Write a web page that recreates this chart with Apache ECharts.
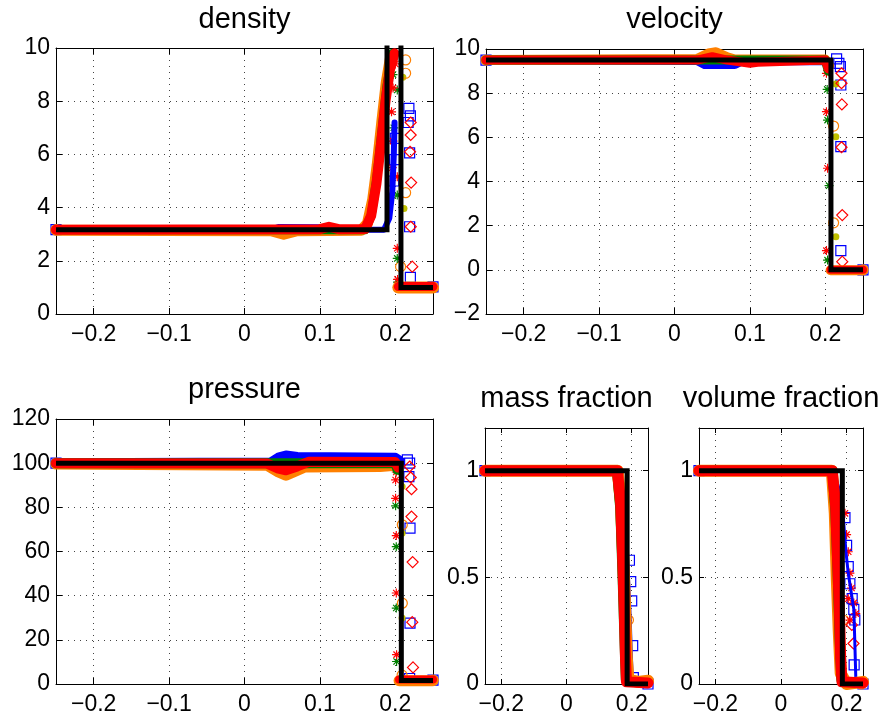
<!DOCTYPE html>
<html><head><meta charset="utf-8">
<script src="https://cdn.jsdelivr.net/npm/echarts@6/dist/echarts.min.js"></script>
<style>html,body{margin:0;padding:0;background:#fff}#c{width:884px;height:721px}</style>
</head><body><div id="c"></div>
<script>
// ---------------- tick labels ----------------
const wideXTicks = [-0.2, -0.1, 0, 0.1, 0.2];
const narrowXTicks = [-0.2, 0, 0.2];
const densityYTicks = [0, 2, 4, 6, 8, 10];
const velocityYTicks = [-2, 0, 2, 4, 6, 8, 10];
const pressureYTicks = [0, 20, 40, 60, 80, 100, 120];
const fractionYTicks = [0, 0.5, 1];

// ---------------- density ----------------
const densityExact = [[-0.25,3.17],[0.189,3.17],[0.189,11],[0.2075,11],[0.2075,1],[0.25,1]];
const densityBlueBand = [[-0.25,3.17],[0.035,3.17],[0.045,3.27],[0.1,3.26],[0.11,3.17],[0.185,3.17],[0.192,3.6],[0.196,4.6],[0.198,6],[0.199,7.2]];
const densityOrangeBand = [[-0.25,3.15],[0.035,3.13],[0.052,3.0],[0.07,3.13],[0.155,3.15],[0.163,3.4],[0.17,4.3],[0.176,5.6],[0.182,7.2],[0.188,8.7],[0.194,9.7]];
const densityGreenBand = [[-0.25,3.17],[0.16,3.17],[0.168,3.7],[0.175,5],[0.182,6.8],[0.189,8.6],[0.196,9.8]];
const densityRedBand = [[-0.25,3.17],[0.1,3.19],[0.112,3.28],[0.125,3.19],[0.16,3.2],[0.168,3.7],[0.175,4.9],[0.181,6.4],[0.187,8.0],[0.193,9.2],[0.199,9.8]];
const densityOrangeRight = [[0.204,1.0],[0.25,1.0]];
const densityRedRight = [[0.204,1.03],[0.25,1.03]];
const densityBlueSquares = [[-0.25,3.17],[0.218,7.73],[0.22,7.45],[0.217,7.2],[0.198,5.0],[0.199,5.8],[0.2,6.6],[0.219,6.06],[0.219,3.28],[0.22,1.38],[0.25,1.02]];
const densityRedDiamonds = [[0.2204,7.2],[0.2204,6.73],[0.2195,6.1],[0.221,4.94],[0.2205,3.28],[0.2225,1.78]];
const densityOrangeCircles = [[-0.25,3.17],[0.2137,9.55],[0.2137,9.05],[0.2137,4.56],[0.207,1.78],[0.25,1.0]];
const densityYellowDots = [[0.2115,3.97],[0.21,8.9]];
const densityGreenStars = [[0.2026,8.42],[0.2026,4.47],[0.2026,2.09],[0.203,1.2],[0.198,7.0],[0.197,9.0]];
const densityRedStars = [[0.2026,5.16],[0.2026,2.47],[0.203,1.3],[0.196,5.5],[0.197,6.5],[0.195,7.6],[0.197,8.5],[0.2,9.4]];

// ---------------- velocity ----------------
const velocityExact = [[-0.25,9.5],[0.2075,9.5],[0.2075,0],[0.25,0]];
const velocityBlueBand = [[-0.25,9.5],[0.03,9.48],[0.04,9.3],[0.08,9.3],[0.09,9.47],[0.2,9.47]];
const velocityOrangeBand = [[-0.25,9.5],[0.03,9.55],[0.045,9.8],[0.055,9.85],[0.07,9.62],[0.08,9.52],[0.2,9.52],[0.205,9.25]];
const velocityGreenBand = [[-0.25,9.5],[0.2,9.5],[0.204,9.0]];
const velocityRedBand = [[-0.25,9.5],[0.03,9.5],[0.05,9.65],[0.07,9.5],[0.1,9.35],[0.11,9.4],[0.2,9.5],[0.204,9.1]];
const velocityOrangeRight = [[0.207,-0.02],[0.25,-0.02]];
const velocityRedRight = [[0.207,0],[0.25,0]];
const velocityBlueSquares = [[-0.25,9.5],[0.215,9.55],[0.218,9.35],[0.22,9.2],[0.2206,8.37],[0.2206,5.58],[0.2206,0.87],[0.25,0]];
const velocityRedDiamonds = [[0.2215,8.9],[0.2215,8.45],[0.222,7.49],[0.2215,5.55],[0.2225,2.48],[0.2225,0.37]];
const velocityOrangeCircles = [[-0.25,9.5],[0.211,6.51],[0.211,2.13],[0.25,0]];
const velocityYellowDots = [[0.214,8.41],[0.214,6.03],[0.214,1.5]];
const velocityGreenStars = [[0.2025,8.17],[0.203,6.78],[0.205,3.81],[0.203,0.44]];
const velocityRedStars = [[0.2015,8.9],[0.2015,7.16],[0.203,4.6],[0.2015,0.87]];

// ---------------- pressure ----------------
const pressureExact = [[-0.25,100],[0.208,100],[0.208,1.6],[0.25,1.6]];
const pressureBlueBand = [[-0.25,100],[0.035,100.3],[0.045,102.5],[0.055,103.5],[0.07,102.8],[0.2,102.4],[0.206,101]];
const pressureOrangeBand = [[-0.25,99.6],[0.03,99],[0.045,96],[0.055,94.5],[0.065,96],[0.08,98.3],[0.18,98.5],[0.2,99]];
const pressureGreenBand = [[-0.25,100],[0.2,100],[0.203,97]];
const pressureRedBand = [[-0.25,100],[0.03,99.8],[0.045,97.5],[0.055,96.8],[0.07,98.5],[0.085,100.6],[0.2,100.5],[0.204,98]];
const pressureOrangeRight = [[0.205,1.5],[0.25,1.5]];
const pressureRedRight = [[0.205,2],[0.25,2]];
const pressureBlueSquares = [[-0.25,100],[0.216,101.5],[0.219,100],[0.218,93.9],[0.2195,70.6],[0.2195,27.6],[0.219,2.5],[0.25,1.8]];
const pressureRedDiamonds = [[0.219,98.5],[0.2205,93.5],[0.2215,88.2],[0.2215,75.8],[0.223,55.2],[0.2225,28],[0.2235,7.5]];
const pressureOrangeCircles = [[-0.25,100],[0.2093,72.1],[0.2093,36.6],[0.209,4],[0.25,1.8]];
const pressureYellowDots = [[0.209,89.4],[0.209,68.3],[0.209,29.9]];
const pressureGreenStars = [[0.2013,96.9],[0.2004,80.7],[0.2013,62.2],[0.2013,34.4],[0.2017,10.2]];
const pressureRedStars = [[0.2013,96],[0.2004,92.4],[0.2004,84.1],[0.2013,67.2],[0.2013,41.2],[0.2017,13.3]];

// ---------------- mass fraction ----------------
const massExact = [[-0.25,1],[0.186,1],[0.186,0],[0.25,0]];
const massBlueBand = [[-0.25,1],[0.162,1],[0.174,0.85],[0.181,0.65],[0.187,0.45],[0.191,0.3],[0.194,0.15],[0.197,0.03],[0.25,0]];
const massOrangeBand = [[-0.25,1],[0.157,1],[0.167,0.85],[0.174,0.6],[0.18,0.35],[0.185,0.12],[0.19,0.02],[0.22,0.01],[0.25,0.015]];
const massGreenBand = [[-0.25,1],[0.155,1],[0.165,0.82],[0.172,0.5],[0.178,0.2],[0.182,0.02]];
const massRedBand = [[-0.25,1],[0.156,1],[0.166,0.85],[0.172,0.6],[0.177,0.35],[0.181,0.12],[0.184,0.01],[0.25,0.005]];
const massBlueSquares = [[-0.25,1],[0.193,0.58],[0.197,0.48],[0.2,0.39],[0.203,0.18],[0.205,0.03],[0.25,0]];
const massRedDiamonds = [];
const massOrangeCircles = [[-0.25,1],[0.19,0.3],[0.25,0.01]];
const massYellowDots = [[0.176,0.45],[0.18,0.2]];
const massGreenStars = [[0.17,0.7],[0.176,0.4]];
const massRedStars = [[0.168,0.8],[0.178,0.3]];

// ---------------- volume fraction ----------------
const volumeExact = [[-0.25,1],[0.187,1],[0.187,0],[0.25,0]];
const volumeBlueBand = [[-0.25,1],[0.16,1],[0.18,0.9],[0.19,0.78],[0.198,0.62],[0.205,0.52],[0.215,0.42],[0.222,0.35],[0.225,0.2],[0.228,0.03],[0.25,0]];
const volumeOrangeBand = [[-0.25,1],[0.155,1],[0.164,0.8],[0.17,0.5],[0.176,0.25],[0.182,0.05],[0.2,0.0],[0.25,0.01]];
const volumeGreenBand = [[-0.25,1],[0.157,1],[0.166,0.8],[0.173,0.5],[0.179,0.2],[0.184,0.02]];
const volumeRedBand = [[-0.25,1],[0.156,1],[0.166,0.85],[0.172,0.6],[0.178,0.35],[0.182,0.12],[0.186,0.01],[0.25,0.005]];
const volumeBlueSquares = [[-0.25,1],[0.195,0.78],[0.2,0.65],[0.205,0.55],[0.21,0.47],[0.217,0.4],[0.222,0.35],[0.225,0.3],[0.223,0.09],[0.25,0]];
const volumeRedDiamonds = [[0.216,0.277],[0.221,0.19]];
const volumeOrangeCircles = [[-0.25,1],[0.19,0.3],[0.245,0.0]];
const volumeYellowDots = [[0.176,0.4],[0.18,0.2]];
const volumeGreenStars = [[0.17,0.65],[0.178,0.3]];
const volumeRedStars = [[0.195,0.8],[0.2,0.7],[0.205,0.62],[0.21,0.52],[0.215,0.45],[0.222,0.38],[0.228,0.33],[0.205,0.4],[0.21,0.3]];

// ---------------- styling / layout ----------------
const COL = {blue:'#0000ff', orange:'#ff8000', yellow:'#bfbf00', green:'#008000', red:'#ff0000', black:'#000000'};
const FONT = 'Liberation Sans, Arial, Helvetica, sans-serif';
const STAR = 'path://M5,0L5,10M0,5L10,5M1.5,1.5L8.5,8.5M1.5,8.5L8.5,1.5';

const panels = [
  {title:'density', titleTop:5, grid:{left:56, top:48, width:377, height:266}, xSplit:5, xStep:0.1, xTicks:wideXTicks,
   yMin:0, yMax:10, yStep:2, yTicks:densityYTicks, tick:6,
   bands:[[densityBlueBand,'blue',6],[densityOrangeBand,'orange',11],[densityGreenBand,'green',9],[densityRedBand,'red',10],[densityOrangeRight,'orange',12],[densityRedRight,'red',9]],
   marks:[densityBlueSquares,densityYellowDots,densityOrangeCircles,densityGreenStars,densityRedStars,densityRedDiamonds], exact:densityExact},
  {title:'velocity', titleTop:5, grid:{left:486, top:49, width:377, height:265}, xSplit:5, xStep:0.1, xTicks:wideXTicks,
   yMin:-2, yMax:10, yStep:2, yTicks:velocityYTicks, tick:6,
   bands:[[velocityBlueBand,'blue',9],[velocityOrangeBand,'orange',10],[velocityGreenBand,'green',9],[velocityRedBand,'red',9],[velocityOrangeRight,'orange',10],[velocityRedRight,'red',8]],
   marks:[velocityBlueSquares,velocityYellowDots,velocityOrangeCircles,velocityGreenStars,velocityRedStars,velocityRedDiamonds], exact:velocityExact},
  {title:'pressure', titleTop:375, grid:{left:56, top:419, width:377, height:265}, xSplit:5, xStep:0.1, xTicks:wideXTicks,
   yMin:0, yMax:120, yStep:20, yTicks:pressureYTicks, tick:6,
   bands:[[pressureBlueBand,'blue',10],[pressureOrangeBand,'orange',11],[pressureGreenBand,'green',10],[pressureRedBand,'red',10],[pressureOrangeRight,'orange',11],[pressureRedRight,'red',8]],
   marks:[pressureBlueSquares,pressureYellowDots,pressureOrangeCircles,pressureGreenStars,pressureRedStars,pressureRedDiamonds], exact:pressureExact},
  {title:'mass fraction', titleTop:384, grid:{left:485, top:428, width:163, height:256}, xSplit:3, xStep:0.2, xTicks:narrowXTicks,
   yMin:0, yMax:1.2, yStep:0.5, yTicks:fractionYTicks, tick:5,
   bands:[[massBlueBand,'blue',6],[massOrangeBand,'orange',12],[massGreenBand,'green',10],[massRedBand,'red',11]],
   marks:[massBlueSquares,massYellowDots,massOrangeCircles,massGreenStars,massRedStars,massRedDiamonds], exact:massExact},
  {title:'volume fraction', titleTop:384, grid:{left:699, top:428, width:164, height:256}, xSplit:3, xStep:0.2, xTicks:narrowXTicks,
   yMin:0, yMax:1.2, yStep:0.5, yTicks:fractionYTicks, tick:5,
   bands:[[volumeBlueBand,'blue',3],[volumeOrangeBand,'orange',12],[volumeGreenBand,'green',10],[volumeRedBand,'red',11]],
   marks:[volumeBlueSquares,volumeYellowDots,volumeOrangeCircles,volumeGreenStars,volumeRedStars,volumeRedDiamonds], exact:volumeExact}
];

const markStyles = [
  {symbol:'rect', size:10, itemStyle:{color:'rgba(0,0,0,0)', borderColor:COL.blue, borderWidth:1.2, opacity:1}},
  {symbol:'circle', size:7, itemStyle:{color:COL.yellow, borderWidth:0, opacity:1}},
  {symbol:'circle', size:10, itemStyle:{color:'rgba(0,0,0,0)', borderColor:COL.orange, borderWidth:1.2, opacity:1}},
  {symbol:STAR, size:9, itemStyle:{color:'rgba(0,0,0,0)', borderColor:COL.green, borderWidth:1.2, opacity:1}},
  {symbol:STAR, size:9, itemStyle:{color:'rgba(0,0,0,0)', borderColor:COL.red, borderWidth:1.2, opacity:1}},
  {symbol:'diamond', size:11, itemStyle:{color:'rgba(0,0,0,0)', borderColor:COL.red, borderWidth:1.2, opacity:1}}
];

function labelFmt(ticks){
  return function(v){
    for (const t of ticks){ if (Math.abs(v - t) < 1e-6) return (t < 0 ? '\u2212' : '') + String(Math.abs(t)); }
    return '';
  };
}

const grids = [], xAxes = [], yAxes = [], titles = [], series = [];
panels.forEach((p, i) => {
  grids.push(Object.assign({containLabel:false}, p.grid));
  titles.push({text:p.title, left:p.grid.left + p.grid.width/2, top:p.titleTop, textAlign:'center', padding:0,
    textStyle:{fontFamily:FONT, fontSize:29, fontWeight:'normal', color:'#000'}});
  const lineStyle = {color:'#000', width:1};
  const tickStyle = {color:'#000', width:1};
  const split = {show:true, lineStyle:{color:'#444', width:1, type:[1,5]}};
  const xBase = {gridIndex:i, type:'value', min:-0.25, max:0.25, splitNumber:p.xSplit, minInterval:p.xStep, maxInterval:p.xStep};
  xAxes.push(Object.assign({}, xBase, {position:'bottom', axisLine:{show:true, onZero:false, lineStyle},
    axisTick:{show:true, inside:true, length:p.tick, lineStyle:tickStyle},
    axisLabel:{show:true, formatter:labelFmt(p.xTicks), fontFamily:FONT, fontSize:23, color:'#000', margin:9, showMinLabel:true, showMaxLabel:true},
    splitLine:split}));
  xAxes.push(Object.assign({}, xBase, {position:'top', axisLine:{show:true, onZero:false, lineStyle},
    axisTick:{show:true, inside:true, length:p.tick, lineStyle:tickStyle}, axisLabel:{show:false}, splitLine:{show:false}}));
  const yBase = {gridIndex:i, type:'value', min:p.yMin, max:p.yMax, interval:p.yStep};
  yAxes.push(Object.assign({}, yBase, {position:'left', axisLine:{show:true, onZero:false, lineStyle},
    axisTick:{show:true, inside:true, length:p.tick, lineStyle:tickStyle},
    axisLabel:{show:true, formatter:labelFmt(p.yTicks), fontFamily:FONT, fontSize:23, color:'#000', margin:6, showMinLabel:true, showMaxLabel:true},
    splitLine:split}));
  yAxes.push(Object.assign({}, yBase, {position:'right', axisLine:{show:true, onZero:false, lineStyle},
    axisTick:{show:true, inside:true, length:p.tick, lineStyle:tickStyle}, axisLabel:{show:false}, splitLine:{show:false}}));

  const xi = 2*i, yi = 2*i;
  p.bands.forEach(([data, c, w]) => {
    series.push({type:'line', xAxisIndex:xi, yAxisIndex:yi, data, symbol:'none', showSymbol:false, silent:true, clip:true,
      lineStyle:{color:COL[c], width:w, cap:'round', join:'round'}});
  });
  p.marks.forEach((data, k) => {
    const s = markStyles[k];
    series.push({type:'scatter', xAxisIndex:xi, yAxisIndex:yi, data, symbol:s.symbol, symbolSize:s.size, silent:true,
      itemStyle:s.itemStyle, clip:true});
  });
  series.push({type:'line', xAxisIndex:xi, yAxisIndex:yi, data:p.exact, symbol:'none', showSymbol:false, silent:true, clip:true,
    lineStyle:{color:COL.black, width:5, cap:'butt', join:'miter'}});
});

const chart = echarts.init(document.getElementById('c'), null, {renderer:'canvas'});
chart.setOption({
  animation:false, backgroundColor:'#fff',
  title:titles, grid:grids, xAxis:xAxes, yAxis:yAxes, series
});
</script></body></html>
